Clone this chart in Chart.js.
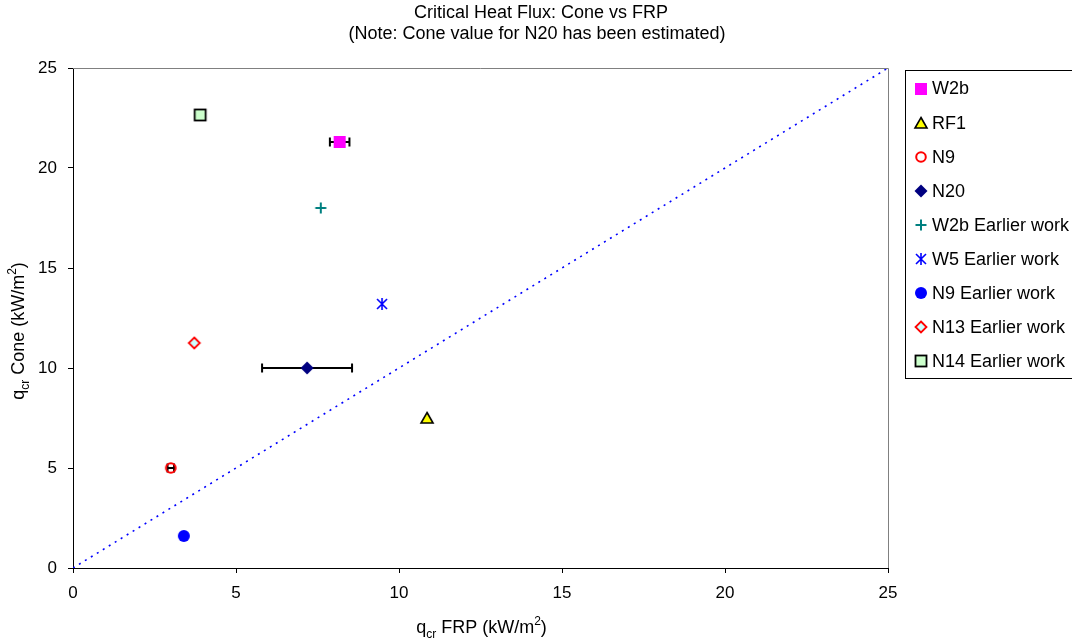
<!DOCTYPE html>
<html><head><meta charset="utf-8">
<script src="https://cdn.jsdelivr.net/npm/chart.js@4.4.1/dist/chart.umd.min.js"></script>
<style>html,body{margin:0;padding:0;background:#fff;overflow:hidden}#wrap{width:1072px;height:642px;position:relative}canvas{display:block}</style>
</head><body><div id="wrap"><canvas id="c" width="1072" height="642"></canvas></div>
<script>
// ---- data ----
const seriesNames = ['W2b','RF1','N9','N20','W2b Earlier work','W5 Earlier work','N9 Earlier work','N13 Earlier work','N14 Earlier work'];
const frpValues  = [8.18, 10.86, 3.0, 7.18, 7.6, 9.48, 3.4, 3.72, 3.9];
const coneValues = [21.3, 7.5, 5.0, 10.0, 18.0, 13.2, 1.6, 11.25, 22.65];
const frpErrors  = [0.3, 0, 0.1, 1.38, 0, 0, 0, 0, 0];
const refLineX = [0, 25];
const refLineY = [0, 25];
const axisTicks = [0, 5, 10, 15, 20, 25];
const titleLines = ['Critical Heat Flux: Cone vs FRP', '(Note: Cone value for N20 has been estimated)'];

const FONT = '"Liberation Sans", Arial, sans-serif';

function mk(draw){
  const c = document.createElement('canvas'); c.width = 18; c.height = 18;
  const g = c.getContext('2d'); g.translate(9, 9); draw(g); return c;
}
const markers = [
  mk(g=>{g.fillStyle='#FF00FF'; g.fillRect(-6,-6,12,12);}),
  mk(g=>{g.beginPath();g.moveTo(0,-5.5);g.lineTo(6,5);g.lineTo(-6,5);g.closePath();g.fillStyle='#FFFF00';g.fill();g.lineWidth=1.6;g.strokeStyle='#000';g.stroke();}),
  mk(g=>{g.beginPath();g.arc(0,0,4.8,0,Math.PI*2);g.lineWidth=2;g.strokeStyle='#FF0000';g.stroke();}),
  mk(g=>{g.beginPath();g.moveTo(0,-6.5);g.lineTo(6.5,0);g.lineTo(0,6.5);g.lineTo(-6.5,0);g.closePath();g.fillStyle='#000080';g.fill();}),
  mk(g=>{g.strokeStyle='#008080';g.lineWidth=2;g.beginPath();g.moveTo(-5.5,0);g.lineTo(5.5,0);g.moveTo(0,-5.5);g.lineTo(0,5.5);g.stroke();}),
  mk(g=>{g.strokeStyle='#0000FF';g.lineWidth=1.6;g.beginPath();g.moveTo(0,-6);g.lineTo(0,6);g.moveTo(-5,-5);g.lineTo(5,5);g.moveTo(5,-5);g.lineTo(-5,5);g.stroke();}),
  mk(g=>{g.beginPath();g.arc(0,0,6,0,Math.PI*2);g.fillStyle='#0000FF';g.fill();}),
  mk(g=>{g.beginPath();g.moveTo(0,-5.5);g.lineTo(5.5,0);g.lineTo(0,5.5);g.lineTo(-5.5,0);g.closePath();g.fillStyle='#CCFFFF';g.fill();g.lineWidth=1.8;g.strokeStyle='#FF0000';g.stroke();}),
  mk(g=>{g.fillStyle='#CCFFCC';g.fillRect(-5.5,-5.5,11,11);g.lineWidth=1.8;g.strokeStyle='#000';g.strokeRect(-5.5,-5.5,11,11);})
];

const datasets = seriesNames.map((name, i) => ({
  type: 'scatter', label: name,
  data: [{x: frpValues[i], y: coneValues[i]}],
  pointStyle: markers[i], pointRadius: 6, order: 1
}));
datasets.push({
  type: 'line', label: 'ref',
  data: refLineX.map((x, i) => ({x, y: refLineY[i]})),
  borderColor: '#0000FF', borderWidth: 1.6, borderDash: [2, 5], pointRadius: 0, fill: false, order: 5
});

function drawRich(ctx, parts, cx, cy, size){
  const fs = size, ss = Math.round(size*0.68);
  let w = 0;
  parts.forEach(p => { ctx.font = (p.s ? ss : fs) + 'px ' + FONT; p.w = ctx.measureText(p.t).width; w += p.w; });
  let x = cx - w/2;
  ctx.textBaseline = 'alphabetic'; ctx.textAlign = 'left';
  const base = cy + size*0.36;
  parts.forEach(p => {
    ctx.font = (p.s ? ss : fs) + 'px ' + FONT;
    let y = base;
    if (p.s === 'sub') y += size*0.25;
    if (p.s === 'sup') y -= size*0.45;
    ctx.fillText(p.t, x, y); x += p.w;
  });
}

const decor = {
  id: 'decor',
  beforeDatasetsDraw(chart){
    const ctx = chart.ctx, xs = chart.scales.x, ys = chart.scales.y;
    ctx.save(); ctx.strokeStyle = '#000'; ctx.lineWidth = 2;
    frpErrors.forEach((e, i) => {
      if (!e) return;
      const y = ys.getPixelForValue(coneValues[i]);
      const x1 = xs.getPixelForValue(frpValues[i] - e), x2 = xs.getPixelForValue(frpValues[i] + e);
      ctx.beginPath(); ctx.moveTo(x1, y); ctx.lineTo(x2, y);
      ctx.moveTo(x1, y-4.5); ctx.lineTo(x1, y+4.5);
      ctx.moveTo(x2, y-4.5); ctx.lineTo(x2, y+4.5);
      ctx.stroke();
    });
    ctx.restore();
  },
  afterDraw(chart){
    const ctx = chart.ctx, a = chart.chartArea;
    ctx.save();
    ctx.strokeStyle = '#808080'; ctx.lineWidth = 1;
    ctx.beginPath(); ctx.moveTo(a.left, Math.round(a.top)+0.5); ctx.lineTo(Math.round(a.right)+0.5, Math.round(a.top)+0.5); ctx.lineTo(Math.round(a.right)+0.5, a.bottom); ctx.stroke();
    ctx.fillStyle = '#000'; ctx.textAlign = 'center'; ctx.textBaseline = 'middle';
    ctx.font = '18px ' + FONT;
    ctx.fillText(titleLines[0], 541, 13);
    ctx.fillText(titleLines[1], 537, 34);
    drawRich(ctx, [{t:'q'},{t:'cr',s:'sub'},{t:' FRP (kW/m'},{t:'2',s:'sup'},{t:')'}], (a.left+a.right)/2 + 1, 627, 18);
    ctx.save(); ctx.translate(18, 331); ctx.rotate(-Math.PI/2);
    drawRich(ctx, [{t:'q'},{t:'cr',s:'sub'},{t:' Cone (kW/m'},{t:'2',s:'sup'},{t:')'}], 0, 0, 18);
    ctx.restore();
    ctx.strokeStyle = '#000'; ctx.lineWidth = 1;
    ctx.strokeRect(905.5, 70.5, 200, 308);
    ctx.fillStyle = '#000'; ctx.textAlign = 'left'; ctx.textBaseline = 'middle'; ctx.font = '18px ' + FONT;
    seriesNames.forEach((n, i) => {
      const y = 88.5 + i*34.1;
      const m = markers[i];
      ctx.drawImage(m, Math.round(921 - m.width/2), Math.round(y - m.height/2));
      ctx.fillText(n, 932, y + 1);
    });
    ctx.restore();
  }
};

const tickOpts = { font: {family: FONT, size: 17}, color: '#000' };

new Chart(document.getElementById('c'), {
  data: {datasets},
  options: {
    responsive: false, animation: false, events: [],
    layout: {padding: {top: 68, right: 184, left: 0, bottom: 0}},
    plugins: {legend: {display: false}, title: {display: false}, tooltip: {enabled: false}},
    scales: {
      x: {
        type: 'linear', min: 0, max: 25,
        afterBuildTicks: s => { s.ticks = axisTicks.map(v => ({value: v})); },
        afterFit: s => { s.height = 74; },
        ticks: Object.assign({padding: 10, maxRotation: 0}, tickOpts),
        grid: {drawOnChartArea: false, drawTicks: true, tickLength: 5, color: '#000'},
        border: {color: '#000', width: 1}
      },
      y: {
        type: 'linear', min: 0, max: 25,
        afterBuildTicks: s => { s.ticks = axisTicks.map(v => ({value: v})); },
        afterFit: s => { s.width = 73; },
        ticks: Object.assign({padding: 11}, tickOpts),
        grid: {drawOnChartArea: false, drawTicks: true, tickLength: 5, color: '#000'},
        border: {color: '#000', width: 1}
      }
    }
  },
  plugins: [decor]
});
</script>
</body></html>
